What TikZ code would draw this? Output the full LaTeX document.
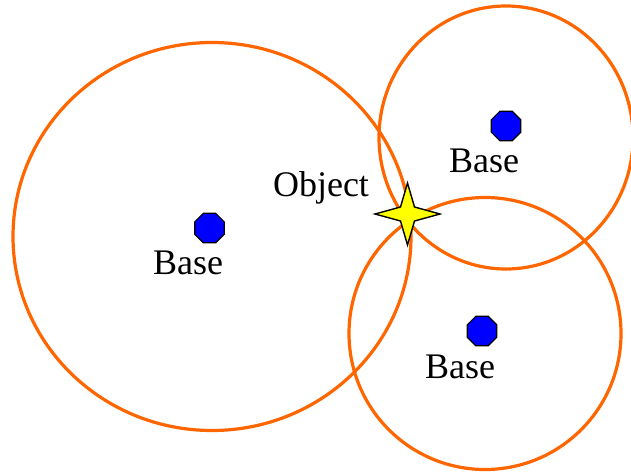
\documentclass[tikz,border=0pt]{standalone}
\usepackage{fontspec}
\setmainfont{Liberation Serif}
\usetikzlibrary{shapes.geometric,calc}
\definecolor{ringorange}{RGB}{255,102,0}
\definecolor{baseblue}{RGB}{0,0,255}
\definecolor{staryellow}{RGB}{255,255,0}
\begin{document}
\begin{tikzpicture}[x=1pt,y=-1pt,
  ring/.style={draw=ringorange, line width=3.2pt},
  basept/.style={regular polygon, regular polygon sides=8, draw=black, fill=baseblue, line width=1.2pt, minimum size=32pt, inner sep=0pt},
  lbl/.style={font=\fontsize{36}{40}\selectfont, inner sep=0pt, anchor=base}]
\useasboundingbox (0,0) rectangle (631,472);
\clip (0,0) rectangle (631,472);
\fill[white] (0,0) rectangle (631,472);
% circles
\draw[ring] (212,236.5) ellipse [x radius=199, y radius=194];
\draw[ring] (506,137.5) ellipse [x radius=127, y radius=131.5];
\draw[ring] (485,333.5) circle [radius=136];
% bases
\node[basept] (b1) at (209.5,228) {};
\node[basept] (b2) at (506,126) {};
\node[basept] (b3) at (482,331) {};
% labels
\node[lbl] (l1) at (188,274) {Base};
\node[lbl] (l2) at (484,172) {Base};
\node[lbl] (l3) at (460,378) {Base};
\node[lbl] (lo) at (321,196) {Object};
% star
\coordinate (s) at (407.5,214);
\draw[fill=staryellow, line width=1.4pt, line join=miter]
  ($(s)+(32.5,0)$) -- ($(s)+(7,-7)$) -- ($(s)+(0,-31)$) -- ($(s)+(-7,-7)$) --
  ($(s)+(-32.5,0)$) -- ($(s)+(-7,7)$) -- ($(s)+(0,31)$) -- ($(s)+(7,7)$) -- cycle;
\end{tikzpicture}
\end{document}
